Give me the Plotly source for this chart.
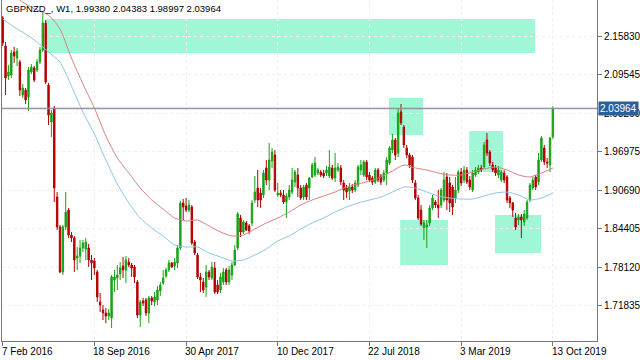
import pandas as pd
import plotly.graph_objects as go

symbol_title = "GBPNZD_, W1, 1.99380 2.04383 1.98997 2.03964"
first_week = "2016-02-07"
n_weeks = 193
weeks = pd.date_range(first_week, periods=n_weeks, freq="7D")

opens = [
    2.1877, 2.1420, 2.0930, 2.0946, 2.1322, 2.1224, 2.1159, 2.0620, 2.0702, 2.0588,
    2.0995, 2.1061, 2.1028, 2.1159, 2.1355, 2.1796, 2.0783, 2.0179, 2.0408, 1.8955,
    1.8466, 1.7731, 1.8466, 1.8743, 1.8334, 1.8286, 1.7959, 1.7992, 1.8123, 1.8106,
    1.8123, 1.7927, 1.7911, 1.7731, 1.7241, 1.7111, 1.7062, 1.7013, 1.6980, 1.7600,
    1.7633, 1.7698, 1.7829, 1.7764, 1.7894, 1.7845, 1.7813, 1.7567, 1.7029, 1.7258,
    1.7274, 1.7062, 1.7307, 1.7241, 1.7274, 1.7421, 1.7551, 1.7666, 1.7764, 1.7878,
    1.7829, 1.7878, 1.8123, 1.8857, 1.8808, 1.8743, 1.8792, 1.8220, 1.8008, 1.7650,
    1.7567, 1.7486, 1.7731, 1.7633, 1.7796, 1.7519, 1.7437, 1.7567, 1.7764, 1.7567,
    1.7682, 1.7845, 1.8123, 1.8612, 1.8384, 1.8531, 1.8482, 1.8531, 1.8906, 1.9102,
    1.9020, 1.8988, 1.9429, 1.9233, 1.9543, 1.9641, 1.8988, 1.9020, 1.8988, 1.8873,
    1.8955, 1.9036, 1.9200, 1.9314, 1.9102, 1.8955, 1.9151, 1.9102, 1.9282, 1.9314,
    1.9347, 1.9363, 1.9347, 1.9347, 1.9298, 1.9429, 1.9265, 1.9396, 1.9429, 1.9184,
    1.9102, 1.9053, 1.9118, 1.9069, 1.9151, 1.9396, 1.9314, 1.9527, 1.9314, 1.9265,
    1.9200, 1.9396, 1.9298, 1.9233, 1.9347, 1.9510, 1.9722, 1.9886, 1.9673, 2.0343,
    2.0098, 1.9755, 1.9641, 1.9608, 1.9184, 1.8939, 1.8743, 1.8449, 1.8465, 1.8531,
    1.8776, 1.8873, 1.8825, 1.8825, 1.8906, 1.9282, 1.9184, 1.9118, 1.8939, 1.9069,
    1.9363, 1.9233, 1.9396, 1.9233, 1.9069, 1.9314, 1.9363, 1.9429, 1.9445, 1.9886,
    1.9690, 1.9478, 1.9429, 1.9314, 1.9233, 1.9347, 1.9282, 1.8939, 1.8857, 1.8612,
    1.8580, 1.8629, 1.8547, 1.8612, 1.8906, 1.9102, 1.9282, 1.9200, 1.9559, 1.9755,
    1.9527, 1.9478, 1.99380,
]
highs = [
    2.1910, 2.1485, 2.1110, 2.1355, 2.1404, 2.1387, 2.1192, 2.0800, 2.0734, 2.1077,
    2.1127, 2.1094, 2.1208, 2.1404, 2.1959, 2.1845, 2.0816, 2.0375, 2.0441, 1.9036,
    1.8498, 1.8498, 1.9036, 1.8776, 1.8383, 1.8318, 1.8139, 1.8253, 1.8253, 1.8286,
    1.8188, 1.8008, 1.7959, 1.7764, 1.7388, 1.7192, 1.7144, 1.7127, 1.7682, 1.7764,
    1.7845, 1.7894, 1.7976, 1.7992, 1.7959, 1.7878, 1.7845, 1.7600, 1.7274, 1.7307,
    1.7307, 1.7339, 1.7339, 1.7404, 1.7502, 1.7567, 1.7764, 1.7796, 1.7927, 1.7894,
    1.7959, 1.8171, 1.8890, 1.8922, 1.8939, 1.8906, 1.8825, 1.8253, 1.8041, 1.7715,
    1.7633, 1.7845, 1.7764, 1.7894, 1.7894, 1.7600, 1.7715, 1.7796, 1.7796, 1.7829,
    1.7894, 1.8171, 1.8710, 1.8661, 1.8580, 1.8563, 1.8514, 1.8906, 1.9298, 1.9396,
    1.9102, 1.9396, 1.9559, 1.9837, 1.9755, 1.9722, 1.9184, 1.9069, 1.9069, 1.9020,
    1.9151, 1.9429, 1.9396, 1.9429, 1.9151, 1.9151, 1.9184, 1.9282, 1.9510, 1.9608,
    1.9429, 1.9396, 1.9396, 1.9461, 1.9722, 1.9478, 1.9673, 1.9510, 1.9478, 1.9233,
    1.9151, 1.9184, 1.9167, 1.9233, 1.9478, 1.9559, 1.9559, 1.9559, 1.9363, 1.9298,
    1.9429, 1.9429, 1.9331, 1.9396, 1.9608, 1.9788, 1.9984, 1.9918, 2.0408, 2.0473,
    2.0130, 1.9804, 1.9673, 1.9641, 1.9233, 1.8988, 1.8825, 1.8580, 1.8580, 1.8825,
    1.8988, 1.8906, 1.9069, 1.9102, 1.9363, 1.9347, 1.9282, 1.9151, 1.9282, 1.9396,
    1.9429, 1.9461, 1.9445, 1.9298, 1.9396, 1.9445, 1.9478, 1.9478, 1.9853, 2.0000,
    1.9722, 1.9527, 1.9478, 1.9461, 1.9396, 1.9396, 1.9314, 1.8971, 1.8873, 1.8694,
    1.8678, 1.8678, 1.8743, 1.8906, 1.9184, 1.9282, 1.9314, 1.9673, 1.9951, 1.9804,
    1.9592, 1.9935, 2.04383,
]
lows = [
    2.1420, 2.0620, 2.0865, 2.0897, 2.1143, 2.1094, 2.0604, 2.0571, 2.0474, 2.0359,
    2.0963, 2.0832, 2.0995, 2.1127, 2.1322, 2.0800, 2.0130, 1.9935, 1.8873, 1.8416,
    1.7715, 1.7682, 1.8416, 1.8286, 1.8220, 1.7731, 1.7764, 1.7878, 1.8057, 1.7927,
    1.7813, 1.7600, 1.7682, 1.7241, 1.7078, 1.6947, 1.6898, 1.6947, 1.6816, 1.7404,
    1.7437, 1.7600, 1.7633, 1.7551, 1.7813, 1.7650, 1.7551, 1.6980, 1.6833, 1.7176,
    1.7013, 1.6898, 1.7192, 1.7176, 1.7192, 1.7339, 1.7519, 1.7633, 1.7731, 1.7796,
    1.7764, 1.7796, 1.8090, 1.8580, 1.8710, 1.8710, 1.8171, 1.8008, 1.7617, 1.7404,
    1.7388, 1.7323, 1.7600, 1.7600, 1.7372, 1.7372, 1.7388, 1.7519, 1.7519, 1.7519,
    1.7600, 1.7829, 1.8090, 1.8302, 1.8351, 1.8400, 1.8351, 1.8482, 1.8857, 1.8792,
    1.8776, 1.8939, 1.9151, 1.9069, 1.9429, 1.9036, 1.8955, 1.8955, 1.8841, 1.8612,
    1.8906, 1.9004, 1.9118, 1.8955, 1.8906, 1.8906, 1.8906, 1.8906, 1.9265, 1.9282,
    1.9314, 1.9282, 1.9265, 1.9298, 1.9265, 1.9233, 1.9200, 1.9363, 1.9151, 1.8906,
    1.8939, 1.8906, 1.9020, 1.9036, 1.9118, 1.9314, 1.9282, 1.9233, 1.9200, 1.9151,
    1.9167, 1.9200, 1.9151, 1.9200, 1.9151, 1.9478, 1.9673, 1.9559, 1.9608, 2.0130,
    1.9755, 1.9592, 1.9429, 1.9184, 1.8906, 1.8580, 1.8482, 1.8253, 1.8123, 1.8482,
    1.8743, 1.8776, 1.8612, 1.8776, 1.8873, 1.8743, 1.8710, 1.8661, 1.8857, 1.9020,
    1.9135, 1.9184, 1.9167, 1.9069, 1.9036, 1.9282, 1.9331, 1.9363, 1.9412, 1.9624,
    1.9461, 1.9363, 1.9298, 1.9265, 1.9200, 1.9184, 1.8857, 1.8776, 1.8629, 1.8416,
    1.8498, 1.8286, 1.8482, 1.8580, 1.8873, 1.9069, 1.9069, 1.9151, 1.9527, 1.9478,
    1.9429, 1.9363, 1.98997,
]
closes = [
    2.1469, 2.0897, 2.0995, 2.1306, 2.1257, 2.1339, 2.0702, 2.0734, 2.0539, 2.1028,
    2.1077, 2.0865, 2.1159, 2.1355, 2.1796, 2.0832, 2.0293, 2.0326, 1.9102, 1.8466,
    1.7731, 1.8466, 1.8710, 1.8334, 1.8286, 1.7927, 1.7992, 1.8123, 1.8204, 1.8220,
    1.7927, 1.7878, 1.7796, 1.7323, 1.7192, 1.7062, 1.7013, 1.7062, 1.7650, 1.7650,
    1.7682, 1.7796, 1.7764, 1.7927, 1.7845, 1.7796, 1.7650, 1.7029, 1.7241, 1.7225,
    1.7062, 1.7307, 1.7258, 1.7323, 1.7437, 1.7519, 1.7633, 1.7764, 1.7878, 1.7813,
    1.7894, 1.8123, 1.8857, 1.8792, 1.8743, 1.8825, 1.8204, 1.8041, 1.7650, 1.7600,
    1.7437, 1.7731, 1.7650, 1.7813, 1.7404, 1.7404, 1.7650, 1.7731, 1.7567, 1.7764,
    1.7845, 1.8090, 1.8678, 1.8384, 1.8547, 1.8416, 1.8400, 1.8857, 1.9036, 1.8906,
    1.8906, 1.9347, 1.9233, 1.9559, 1.9690, 1.9069, 1.9020, 1.8988, 1.8873, 1.8971,
    1.9069, 1.9233, 1.9363, 1.9102, 1.8939, 1.9118, 1.8955, 1.9265, 1.9478, 1.9510,
    1.9396, 1.9314, 1.9298, 1.9396, 1.9445, 1.9265, 1.9429, 1.9445, 1.9200, 1.9069,
    1.9036, 1.9118, 1.9069, 1.9184, 1.9445, 1.9478, 1.9527, 1.9282, 1.9233, 1.9200,
    1.9396, 1.9233, 1.9200, 1.9347, 1.9559, 1.9755, 1.9886, 1.9641, 2.0326, 2.0163,
    1.9804, 1.9641, 1.9478, 1.9233, 1.8939, 1.8612, 1.8514, 1.8531, 1.8498, 1.8776,
    1.8939, 1.8825, 1.8776, 1.9069, 1.9233, 1.8906, 1.8857, 1.8792, 1.9069, 1.9363,
    1.9184, 1.9396, 1.9200, 1.9118, 1.9347, 1.9396, 1.9429, 1.9396, 1.9804, 1.9673,
    1.9510, 1.9396, 1.9347, 1.9396, 1.9363, 1.9233, 1.8906, 1.8857, 1.8743, 1.8465,
    1.8629, 1.8580, 1.8678, 1.8873, 1.9151, 1.9233, 1.9118, 1.9559, 1.9918, 1.9527,
    1.9510, 1.9918, 2.03964,
]

# moving averages (one value every 4 weeks)
ma_red_weeks = list(range(4, 193, 4))
ma_red = [
    2.2236, 2.2106, 2.2008, 2.1926, 2.1698, 2.1224, 2.0800, 2.0408, 1.9951, 1.9592,
    1.9347, 1.9102, 1.8906, 1.8759, 1.8612, 1.8563, 1.8580, 1.8482, 1.8384, 1.8318,
    1.8334, 1.8433, 1.8531, 1.8612, 1.8710, 1.8825, 1.8906, 1.8971, 1.9036, 1.9118,
    1.9167, 1.9216, 1.9282, 1.9380, 1.9478, 1.9429, 1.9396, 1.9347, 1.9314, 1.9314,
    1.9363, 1.9412, 1.9445, 1.9396, 1.9314, 1.9282, 1.9347, 1.9429,
]
ma_blue_weeks = list(range(0, 193, 4))
ma_blue = [
    2.1861, 2.1730, 2.1616, 2.1485, 2.1322, 2.1159, 2.0767, 2.0343, 1.9984, 1.9559,
    1.9167, 1.8857, 1.8612, 1.8449, 1.8318, 1.8171, 1.8139, 1.8139, 1.8041, 1.7976,
    1.7911, 1.7927, 1.8008, 1.8106, 1.8237, 1.8318, 1.8433, 1.8531, 1.8612, 1.8710,
    1.8792, 1.8857, 1.8906, 1.8955, 1.9036, 1.9118, 1.9102, 1.9036, 1.8971, 1.8939,
    1.8922, 1.8922, 1.8971, 1.9020, 1.9036, 1.8988, 1.8906, 1.8939, 1.9020,
]

# supply / demand zones (week offsets from the first candle, price top/bottom)
zone_start_wk = [15.1, 134.8, 138.7, 162.8, 171.8]
zone_end_wk = [185.8, 146.7, 155.4, 174.6, 187.9]
zone_top = [2.1861, 2.0571, 1.8580, 2.0033, 1.8661]
zone_bottom = [2.1306, 1.9967, 1.7845, 1.9363, 1.8041]

ytick_vals = [2.15830, 2.09545, 2.03260, 1.96975, 1.90690, 1.84405, 1.78120, 1.71835]
ytick_text = ["2.15830", "2.09545", "2.03260", "1.96975", "1.90690", "1.84405", "1.78120", "1.71835"]
xtick_dates = ["2016-02-07", "2016-09-18", "2017-04-30", "2017-12-10", "2018-07-22", "2019-03-03", "2019-10-13"]
xtick_text = ["7 Feb 2016", "18 Sep 2016", "30 Apr 2017", "10 Dec 2017", "22 Jul 2018", "3 Mar 2019", "13 Oct 2019"]
last_price = 2.03964

base = weeks[0]
def wk_to_date(w):
    return base + pd.Timedelta(days=7 * w)

FONT = "Liberation Sans, Arial, sans-serif"
fig = go.Figure()

fig.add_trace(go.Candlestick(
    x=weeks, open=opens, high=highs, low=lows, close=closes,
    increasing=dict(line=dict(color="#17a317", width=1), fillcolor="#17a317"),
    decreasing=dict(line=dict(color="#b40000", width=1), fillcolor="#b40000"),
    whiskerwidth=0, showlegend=False, hoverinfo="skip",
))
fig.add_trace(go.Scatter(
    x=[weeks[i] for i in ma_red_weeks], y=ma_red, mode="lines",
    line=dict(color="#d98080", width=1, shape="spline", smoothing=0.6),
    showlegend=False, hoverinfo="skip",
))
fig.add_trace(go.Scatter(
    x=[weeks[i] for i in ma_blue_weeks], y=ma_blue, mode="lines",
    line=dict(color="#8cc6e6", width=1, shape="spline", smoothing=0.6),
    showlegend=False, hoverinfo="skip",
))

shapes = []
for s, e, t, b in zip(zone_start_wk, zone_end_wk, zone_top, zone_bottom):
    shapes.append(dict(type="rect", xref="x", yref="y", x0=wk_to_date(s), x1=wk_to_date(e),
                       y0=b, y1=t, fillcolor="#a0f7d6", line=dict(width=0), layer="below"))
shapes.append(dict(type="line", xref="paper", yref="y", x0=0, x1=1, y0=last_price + 0.0009,
                   y1=last_price + 0.0009, line=dict(color="#d88a8a", width=1)))
shapes.append(dict(type="line", xref="paper", yref="y", x0=0, x1=1, y0=last_price,
                   y1=last_price, line=dict(color="#7f8ea8", width=1)))

annotations = [dict(xref="paper", yref="paper", x=0, y=1, xanchor="left", yanchor="top",
                    xshift=2, yshift=-1, text=symbol_title, showarrow=False,
                    font=dict(family=FONT, size=9.5, color="#000000"))]
for d, t in zip(xtick_dates, xtick_text):
    annotations.append(dict(xref="x", yref="paper", x=d, y=0, xanchor="left", yanchor="top",
                            xshift=-3, yshift=-3, text=t, showarrow=False,
                            font=dict(family=FONT, size=10, color="#000000")))
annotations.append(dict(xref="paper", yref="y", x=1, y=last_price, xanchor="left", yanchor="middle",
                        xshift=1, text=f"{last_price:.5f}", showarrow=False, bgcolor="#2a5f9c",
                        borderpad=1, font=dict(family=FONT, size=10, color="#ffffff")))

fig.update_layout(
    width=640, height=360,
    margin=dict(l=2, r=43, t=0, b=19),
    paper_bgcolor="white", plot_bgcolor="white",
    shapes=shapes, annotations=annotations,
    showlegend=False,
    xaxis=dict(type="date", range=[wk_to_date(-0.24), wk_to_date(207.4)],
               rangeslider=dict(visible=False), tickvals=xtick_dates, showticklabels=False,
               ticks="outside", ticklen=4, tickcolor="#777777",
               showgrid=True, gridcolor="#efefef", griddash="dot",
               showline=True, linecolor="#777777", linewidth=1, mirror=True, zeroline=False),
    yaxis=dict(side="right", range=[1.66045, 2.2171], tickvals=ytick_vals, ticktext=ytick_text,
               ticks="outside", ticklen=4, tickcolor="#777777",
               tickfont=dict(family=FONT, size=10, color="#000000"),
               showgrid=True, gridcolor="#efefef", griddash="dot",
               showline=True, linecolor="#777777", linewidth=1, mirror=True, zeroline=False),
)

fig.write_html("out.html", config={"displayModeBar": False},
               post_script="document.body.style.margin='0';document.body.style.padding='0';")
